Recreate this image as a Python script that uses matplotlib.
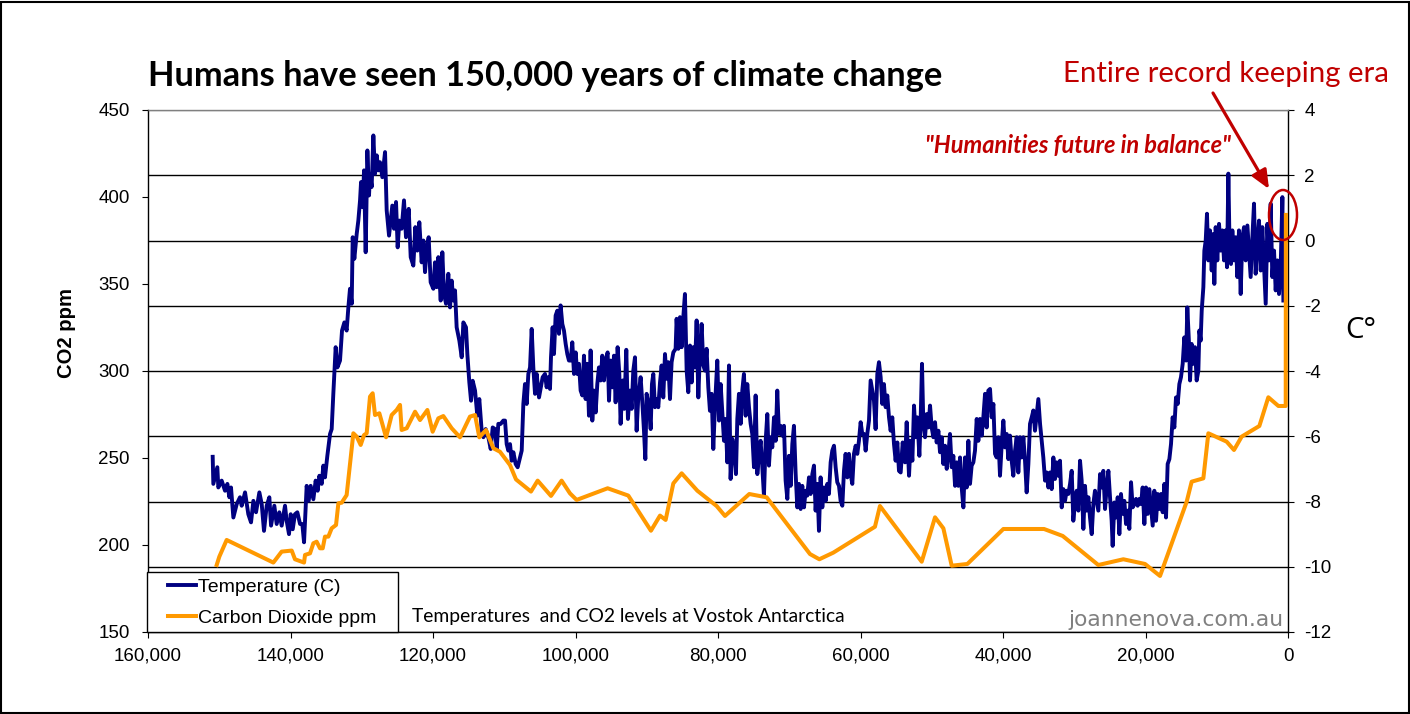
import matplotlib
matplotlib.use("Agg")
import matplotlib.pyplot as plt
from matplotlib.ticker import FuncFormatter
from matplotlib.patches import Rectangle, Ellipse, FancyArrowPatch
import numpy as np

plt.rcParams['axes.unicode_minus'] = False

# ---------------- data ----------------
# Vostok temperature anomaly: age in thousands of years BP, temperature in C
temp_age_kyr = [
    150.92, 150.83, 150.27, 150.13, 149.66, 149.19, 148.86, 148.58, 148.35, 148.02,
    147.55, 147.09, 146.85, 146.38, 145.92, 145.54, 145.21, 144.84, 144.37, 144.04,
    143.72, 143.34, 142.97, 142.73, 142.27, 141.94, 141.57, 141.24, 140.77, 140.54,
    140.21, 139.97, 139.69, 139.37, 139.04, 138.66, 138.34, 138.10, 137.73, 137.45,
    137.17, 136.79, 136.47, 136.19, 135.95, 135.62, 135.39, 135.16, 134.83, 134.45,
    134.22, 133.99, 133.66, 133.42, 133.05, 132.77, 132.44, 132.12, 131.88, 131.65,
    131.41, 131.27, 131.04, 130.71, 130.48, 130.24, 130.10, 129.87, 129.68, 129.45,
    129.21, 128.98, 128.84, 128.61, 128.37, 128.14, 127.90, 127.67, 127.44, 127.11,
    126.73, 126.50, 126.17, 125.94, 125.71, 125.47, 125.19, 124.96, 124.72, 124.40,
    124.07, 123.79, 123.41, 123.13, 122.76, 122.48, 122.20, 121.92, 121.59, 121.35,
    121.12, 120.89, 120.61, 120.33, 119.95, 119.72, 119.48, 119.25, 118.92, 118.69,
    118.45, 118.17, 117.85, 117.61, 117.38, 117.14, 116.91, 116.68, 116.30, 115.97,
    115.74, 115.37, 115.18, 114.90, 114.66, 114.43, 114.10, 113.78, 113.50, 113.17,
    112.93, 112.61, 112.23, 111.90, 111.62, 111.30, 111.06, 110.83, 110.50, 110.13,
    109.89, 109.66, 109.43, 109.19, 108.96, 108.72, 108.40, 108.12, 107.79, 107.55,
    107.32, 107.09, 106.85, 106.62, 106.38, 106.15, 105.92, 105.68, 105.45, 105.12,
    104.61, 104.28, 104.05, 103.82, 103.58, 103.44, 103.21, 103.02, 102.79, 102.55,
    102.32, 102.09, 101.85, 101.62, 101.38, 101.15, 100.92, 100.68, 100.45, 100.21,
    99.98, 99.75, 99.51, 99.28, 99.04, 98.81, 98.58, 98.34, 98.11, 97.88,
    97.64, 97.41, 97.17, 96.94, 96.71, 96.47, 96.24, 96.00, 95.77, 95.49,
    95.30, 95.07, 94.83, 94.60, 94.37, 94.09, 93.85, 93.67, 93.38, 93.15,
    92.87, 92.64, 92.36, 92.12, 91.89, 91.65, 91.42, 91.19, 90.86, 90.58,
    90.39, 90.20, 90.02, 89.69, 89.45, 89.27, 89.08, 88.85, 88.61, 88.38,
    88.14, 87.91, 87.68, 87.44, 87.21, 86.97, 86.74, 86.51, 86.27, 85.95,
    85.81, 85.57, 85.34, 85.10, 84.87, 84.64, 84.40, 84.17, 83.93, 83.70,
    83.47, 83.23, 83.00, 82.76, 82.53, 82.30, 82.06, 81.83, 81.60, 81.36,
    81.13, 80.89, 80.66, 80.43, 80.10, 79.86, 79.63, 79.40, 79.16, 78.93,
    78.69, 78.46, 78.23, 77.99, 77.76, 77.48, 77.29, 77.06, 76.82, 76.59,
    76.36, 76.12, 75.89, 75.65, 75.42, 75.19, 74.95, 74.72, 74.48, 74.25,
    74.02, 73.78, 73.55, 73.31, 73.08, 72.85, 72.61, 72.38, 72.14, 71.91,
    71.68, 71.44, 71.21, 70.98, 70.74, 70.51, 70.27, 70.04, 69.81, 69.57,
    69.34, 69.10, 68.87, 68.64, 68.40, 68.17, 67.93, 67.70, 67.47, 67.23,
    67.00, 66.76, 66.53, 66.30, 66.06, 65.83, 65.60, 65.36, 65.13, 64.89,
    64.66, 64.43, 64.19, 63.96, 63.72, 63.49, 63.26, 63.02, 62.79, 62.55,
    62.32, 62.09, 61.85, 61.62, 61.38, 61.15, 60.92, 60.68, 60.45, 60.22,
    59.98, 59.75, 59.51, 59.28, 59.05, 58.81, 58.58, 58.34, 58.11, 57.88,
    57.64, 57.41, 57.17, 56.94, 56.71, 56.47, 56.24, 56.00, 55.77, 55.54,
    55.30, 55.07, 54.83, 54.60,
    54.36, 54.08, 53.75, 53.52, 53.19, 52.96, 52.72, 52.49, 52.25, 52.02,
    51.74, 51.55, 51.37, 51.18, 50.94, 50.71, 50.48, 50.24, 50.01, 49.77,
    49.54, 49.31, 49.07, 48.84, 48.61, 48.37, 48.14, 47.90, 47.67, 47.44,
    47.20, 46.97, 46.73, 46.50, 46.27, 46.03, 45.80, 45.56, 45.33, 45.10,
    44.86, 44.63, 44.40, 44.16, 43.93, 43.69, 43.46, 43.23, 42.99, 42.76,
    42.52, 42.29, 42.06, 41.82, 41.59, 41.35, 41.12, 40.89, 40.65, 40.42,
    40.18, 39.95, 39.72, 39.48, 39.25, 39.02, 38.78, 38.55, 38.31, 38.08,
    37.85, 37.61, 37.38, 37.14, 36.91, 36.68, 36.44, 36.21, 35.97, 35.74,
    35.51, 35.27, 35.04, 34.80, 34.57, 34.34, 34.10, 33.87, 33.63, 33.40,
    33.17, 32.93, 32.70, 32.47, 32.23, 32.00, 31.76, 31.53, 31.30, 31.06,
    30.83, 30.59, 30.36, 30.13, 29.89, 29.66, 29.42, 29.19, 28.96, 28.72,
    28.49, 28.26, 28.02, 27.79, 27.55, 27.32, 27.09, 26.85, 26.62, 26.38,
    26.15, 25.92, 25.68, 25.45, 25.21, 24.98, 24.75, 24.61, 24.37, 24.14,
    23.90, 23.67, 23.44, 23.20, 22.97, 22.73, 22.50, 22.27, 22.03, 21.80,
    21.56, 21.33, 21.10, 20.86, 20.63, 20.40, 20.16, 19.93, 19.69, 19.46,
    19.23, 18.99, 18.76, 18.52, 18.29, 18.06, 17.82, 17.59, 17.35, 17.12,
    16.89, 16.65, 16.42, 16.19, 15.95, 15.72, 15.48, 15.25, 15.02, 14.78,
    14.55, 14.31, 14.13, 13.89, 13.75, 13.52, 13.28, 13.05, 12.82, 12.58,
    12.44, 12.26, 12.11, 11.88, 11.74, 11.55, 11.37, 11.18, 10.95, 10.71,
    10.48, 10.34, 10.15, 9.92, 9.68, 9.45, 9.21, 8.98, 8.75, 8.56,
    8.37, 8.19, 8.00, 7.81, 7.58, 7.34, 7.11, 6.88, 6.64, 6.41,
    6.17, 5.94, 5.70, 5.47, 5.24, 5.00, 4.77, 4.54, 4.30, 4.07,
    3.83, 3.60, 3.37, 3.13, 2.90, 2.66, 2.43, 2.20, 1.96, 1.73,
    1.49, 1.26, 1.03, 0.79, 0.65,
]
temp_c = [
    -6.63, -7.46, -6.95, -7.57, -7.36, -7.67, -7.46, -7.87, -7.57, -8.49,
    -8.08, -7.87, -8.13, -7.72, -8.39, -8.64, -7.98, -8.33, -7.72, -8.08,
    -8.90, -8.13, -7.87, -8.74, -8.13, -8.69, -8.33, -8.74, -8.13, -8.59,
    -9.00, -8.39, -8.85, -8.39, -8.33, -8.69, -8.69, -9.25, -7.52, -7.98,
    -7.52, -7.93, -7.36, -7.67, -7.21, -7.46, -6.90, -7.26, -6.60, -5.93,
    -5.78, -4.70, -3.27, -3.89, -3.68, -2.76, -2.51, -2.76, -2.05, -1.48,
    -1.94, 0.10, -0.56, 0.20, 0.61, 1.23, 1.79, 1.02, 2.15, -0.36,
    2.76, 1.38, 2.04, 1.64, 3.22, 2.04, 2.61, 2.15, 2.40, 1.94,
    2.71, 0.92, 0.15, 0.61, 1.07, 0.36, 1.18, -0.21, 0.61, 0.36,
    1.23, 0.10, 0.97, -0.51, -0.77, 0.41, -0.31, 0.56, -0.67, 0.00,
    -0.97, -0.26, 0.10, -1.28, -1.48, -0.67, -1.43, -0.51, -1.84, -0.36,
    -1.64, -1.94, -1.02, -2.05, -1.23, -1.84, -1.53, -2.66, -3.07, -3.58,
    -2.51, -2.66, -3.48, -4.35, -4.91, -4.30, -4.60, -5.37, -4.86, -5.83,
    -6.03, -5.78, -6.03, -6.39, -5.73, -5.78, -6.39, -5.62, -5.62, -5.52,
    -5.52, -6.24, -6.44, -6.24, -6.75, -6.49, -6.85, -6.95, -6.65, -6.44,
    -5.01, -4.40, -5.01, -4.09, -3.89, -2.71, -3.89, -4.70, -4.09, -4.81,
    -4.19, -4.09, -4.50, -4.19, -4.55, -3.58, -2.66, -3.48, -2.30, -2.15,
    -2.86, -1.99, -2.56, -2.76, -3.17, -3.48, -3.68, -3.68, -3.12, -4.09,
    -3.43, -4.09, -3.78, -4.60, -4.75, -3.53, -4.86, -3.78, -5.37, -3.37,
    -5.52, -4.60, -5.27, -4.40, -3.89, -4.29, -3.53, -4.29, -3.68, -3.43,
    -4.91, -3.68, -4.50, -3.53, -4.96, -3.27, -4.09, -5.62, -4.29, -5.16,
    -3.35, -5.47, -4.60, -5.16, -3.99, -3.58, -5.83, -4.81, -4.19, -5.11,
    -5.83, -6.70, -4.70, -5.06, -5.78, -4.40, -4.09, -5.11, -4.86, -5.11,
    -4.35, -3.83, -4.81, -3.48, -4.24, -3.73, -4.86, -3.73, -3.43, -3.32,
    -2.40, -3.32, -2.35, -3.27, -2.35, -1.64, -3.99, -4.65, -3.22, -4.35,
    -3.27, -3.89, -2.45, -4.81, -3.37, -2.56, -3.83, -3.99, -3.32, -4.50,
    -5.22, -4.70, -6.39, -5.11, -3.68, -5.52, -4.40, -5.27, -6.14, -5.47,
    -6.80, -3.83, -7.31, -6.08, -6.44, -7.16, -5.47, -4.70, -5.62, -4.60,
    -4.09, -5.37, -4.40, -5.11, -5.62, -5.93, -6.95, -4.75, -7.16, -6.54,
    -6.14, -6.95, -7.82, -6.14, -5.32, -6.90, -6.03, -6.34, -5.42, -6.14,
    -4.60, -5.93, -5.68, -5.98, -5.68, -7.36, -7.92, -6.60, -7.52, -6.24,
    -5.68, -7.16, -8.18, -7.46, -8.23, -7.52, -8.18, -7.67, -7.82, -7.26,
    -7.77, -7.16, -6.90, -8.28, -7.46, -8.90, -7.26, -8.18, -7.57, -7.98,
    -7.46, -7.77, -6.80, -6.44, -6.29, -6.95, -7.41, -7.52, -7.98, -8.13,
    -7.06, -6.54, -7.26, -6.54, -7.16, -7.46, -6.54, -6.29, -6.54, -6.14,
    -5.57, -5.93, -5.93, -6.44, -5.93, -5.52, -4.29, -4.60, -4.91, -5.78,
    -4.09, -3.73, -4.19, -5.01, -4.40, -5.11, -4.75, -5.42, -5.83, -5.42,
    -6.24, -6.75, -6.19, -7.06,
    -7.11, -6.19, -6.80, -5.57, -7.21, -6.14, -6.75, -5.06, -6.03, -5.42,
    -6.60, -5.42, -3.78, -5.62, -6.03, -5.32, -5.73, -5.06, -5.73, -6.03,
    -5.57, -6.19, -5.83, -6.49, -6.03, -6.85, -6.29, -7.00, -6.54, -5.93,
    -6.95, -6.60, -7.52, -6.80, -7.52, -6.65, -7.57, -8.18, -6.65, -7.57,
    -6.14, -7.46, -6.90, -6.80, -6.44, -5.47, -6.14, -5.47, -5.98, -5.42,
    -4.70, -5.73, -4.60, -4.55, -5.42, -5.01, -6.54, -6.65, -6.03, -7.21,
    -6.24, -5.52, -6.34, -5.93, -6.70, -5.98, -6.75, -7.21, -6.44, -6.03,
    -7.11, -6.03, -6.65, -6.03, -6.75, -7.72, -6.85, -5.62, -5.42, -5.21,
    -5.83, -5.32, -4.86, -5.62, -6.14, -6.65, -7.36, -7.11, -7.57, -7.11,
    -7.62, -6.65, -7.31, -6.80, -7.21, -6.75, -8.18, -7.62, -7.98, -7.67,
    -7.77, -7.46, -7.06, -8.59, -8.03, -7.67, -8.28, -6.75, -7.36, -8.84,
    -7.52, -8.28, -7.87, -8.49, -9.00, -8.08, -7.67, -7.98, -8.28, -7.16,
    -7.57, -7.06, -8.23, -7.57, -7.06, -7.87, -8.59, -9.36, -8.03, -8.49,
    -7.87, -9.00, -7.77, -8.38, -7.98, -8.69, -8.28, -8.84, -7.41, -8.18,
    -8.08, -7.92, -8.13, -7.92, -8.08, -7.57, -8.69, -7.57, -8.38, -7.62,
    -8.18, -8.74, -7.67, -8.59, -7.77, -8.23, -7.77, -8.33, -7.46, -8.49,
    -6.85, -6.70, -6.24, -5.42, -5.73, -4.81, -5.01, -4.40, -4.19, -3.78,
    -2.97, -3.68, -2.05, -3.17, -4.29, -3.17, -3.78, -3.27, -4.29, -3.99,
    -2.76, -3.07, -2.15, -1.43, -0.31, 0.00, 0.82, -0.61, 0.31, -0.92,
    0.20, -1.33, 0.41, -0.61, 0.51, -0.31, 0.31, -0.61, 0.31, -0.82,
    2.05, -0.31, -0.72, 0.31, -0.61, 0.10, -1.12, 0.31, -1.64, 0.10,
    0.41, -0.61, 0.46, -0.31, -1.12, 0.10, 1.13, -1.02, -0.10, 0.61,
    -0.92, 0.41, -0.72, -1.94, 0.51, -0.61, 1.13, -1.12, -0.31, -1.53,
    -0.61, -1.64, -0.82, 1.33, -1.84,
]

# Vostok CO2: age in thousands of years BP, concentration in ppm
co2_age_kyr = [
    150.36, 149.99, 148.96, 142.41, 141.24, 139.83, 139.37, 138.10, 137.96, 137.26,
    136.79, 136.33, 135.86, 135.48, 135.16, 134.69, 134.22, 133.61, 133.28, 132.82,
    132.12, 131.18, 130.71, 130.15, 129.68, 129.31, 128.84, 128.47, 128.14, 127.53,
    126.59, 125.80, 125.10, 124.63, 124.40, 123.69, 122.52, 121.82, 120.79, 120.05,
    119.25, 118.55, 117.38, 116.21, 114.81, 114.10, 113.50, 112.56, 111.53, 110.60,
    109.20, 108.35, 106.25, 105.31, 103.44, 101.95, 100.78, 99.84, 95.49, 92.59,
    89.41, 88.14, 87.35, 86.27, 85.10, 82.90, 80.19, 79.02, 75.61, 73.17,
    67.09, 65.78, 63.82, 57.97, 57.27, 51.41, 49.54, 48.37, 47.20, 45.00,
    39.95, 34.24, 31.62, 26.62, 23.11, 20.07, 17.96, 14.22, 13.52, 11.88,
    11.18, 8.61, 7.58, 6.50, 4.02, 2.76, 1.35, 0.32, 0.30,
]
co2_ppm = [
    188.5, 193.3, 202.9, 189.9, 196.2, 196.8, 191.8, 189.9, 194.3, 195.2,
    201.0, 201.9, 198.1, 198.1, 204.8, 204.8, 209.6, 211.5, 224.0, 224.3,
    228.7, 264.2, 262.3, 257.5, 263.2, 264.2, 285.3, 287.2, 274.7, 275.7,
    261.9, 274.7, 277.6, 280.5, 266.1, 267.1, 276.6, 271.8, 277.6, 265.1,
    272.8, 274.1, 267.1, 261.9, 273.8, 274.7, 261.9, 266.1, 255.6, 253.6,
    246.0, 237.7, 230.7, 237.0, 228.2, 237.0, 229.7, 225.9, 232.6, 228.4,
    208.2, 216.9, 214.4, 235.4, 241.2, 231.2, 222.4, 216.7, 229.3, 227.4,
    194.8, 191.8, 195.6, 210.5, 222.4, 190.4, 215.9, 209.6, 188.1, 189.1,
    209.2, 209.2, 205.2, 188.5, 191.8, 189.1, 182.2, 224.9, 236.4, 238.3,
    264.2, 259.4, 254.6, 262.3, 268.4, 284.9, 279.9, 279.9, 389.7,
]

x_ticks = [160000, 140000, 120000, 100000, 80000, 60000, 40000, 20000, 0]
co2_ticks = [150, 200, 250, 300, 350, 400, 450]
temp_ticks = [-12, -10, -8, -6, -4, -2, 0, 2, 4]

series_labels = ["Temperature (C)", "Carbon Dioxide ppm"]
title_text = "Humans have seen 150,000 years of climate change"
era_text = "Entire record keeping era"
quote_text = "\"Humanities future in balance\""
subtitle_text = "Temperatures  and CO2 levels at Vostok Antarctica"
credit_text = "joannenova.com.au"

# ---------------- styling ----------------
NAVY = "#000080"
ORANGE = "#FF9900"
DARKRED = "#C00000"
TICKFONT = "Liberation Sans"

W, H = 1410, 714
fig = plt.figure(figsize=(W / 100, H / 100), dpi=100)
fig.patch.set_facecolor("white")


def fx(px):
    return px / W


def fy(py):
    return 1 - py / H


L, R, T, B = 148, 1288, 110, 632
ax = fig.add_axes([fx(L), fy(B), (R - L) / W, (B - T) / H])   # temperature axes (right scale)
ax2 = ax.twinx()                                                # CO2 axes (left scale)

# temperature line
temp_years = np.array(temp_age_kyr) * 1000
l_temp, = ax.plot(temp_years, temp_c, color=NAVY, lw=2.8,
                  solid_joinstyle="round", zorder=3)
# CO2 line
co2_years = np.array(co2_age_kyr) * 1000
l_co2, = ax2.plot(co2_years, co2_ppm, color=ORANGE, lw=2.9,
                  solid_joinstyle="round", zorder=3)

ax.set_xlim(160000, 0)
ax.set_ylim(-12, 4)
ax2.set_ylim(150, 450)
ax.set_xticks(x_ticks)
ax.set_yticks(temp_ticks)
ax2.set_yticks(co2_ticks)
ax.xaxis.set_major_formatter(FuncFormatter(lambda v, p: f"{v:,.0f}"))

# gridlines from the temperature scale
ax.grid(axis="y", color="black", lw=1.0)
ax.grid(axis="x", visible=False)
ax.set_axisbelow(True)
for val, gl in zip(temp_ticks, ax.yaxis.get_gridlines()):
    if val == temp_ticks[-1]:
        gl.set_color("#808080")

for s in ("left", "right", "bottom"):
    ax.spines[s].set_color("black")
    ax.spines[s].set_linewidth(1.0)
ax.spines["top"].set_color("#808080")
ax.spines["top"].set_linewidth(1.0)
for s in ax2.spines.values():
    s.set_visible(False)

ax.tick_params(axis="x", direction="out", length=4.3, width=0.8, pad=7,
               labelsize=13.5, colors="black")
ax.tick_params(axis="y", direction="out", length=4.3, width=0.8, pad=7.5,
               labelsize=13.5, left=False, labelleft=False,
               right=True, labelright=True)
ax2.tick_params(axis="y", direction="out", length=4.3, width=0.8, pad=8.8,
                labelsize=13.5, left=True, labelleft=True,
                right=False, labelright=False)
for lab in ax.get_xticklabels() + ax.get_yticklabels() + ax2.get_yticklabels():
    lab.set_fontfamily(TICKFONT)

# ---------------- legend box ----------------
fig.add_artist(Rectangle((fx(147), fy(632)), (398 - 147) / W, (632 - 571.5) / H,
                         transform=fig.transFigure, facecolor="white",
                         edgecolor="black", lw=1.0, zorder=4))
leg = fig.legend([l_temp, l_co2], series_labels, loc="upper left",
                 bbox_to_anchor=(fx(168), fy(578)), bbox_transform=fig.transFigure,
                 frameon=False, borderpad=0, borderaxespad=0,
                 handlelength=1.44, handletextpad=0.12, labelspacing=0.72,
                 prop={"family": TICKFONT, "size": 14})
leg.set_zorder(6)

# ---------------- texts ----------------
texts = []
t_title = fig.text(fx(148), fy(85.5), title_text, fontfamily="Lato",
                   fontweight="bold", fontsize=21, ha="left", va="baseline",
                   color="black")
texts.append((t_title, 794, "w"))
t_era = fig.text(fx(1063), fy(82), era_text, fontfamily="Lato",
                 fontsize=19, ha="left", va="baseline", color=DARKRED)
texts.append((t_era, 326, "w"))
t_quote = fig.text(fx(925), fy(152.5), quote_text, fontfamily="Lato",
                   fontweight="bold", fontstyle="italic", fontsize=14,
                   ha="left", va="baseline", color=DARKRED)
texts.append((t_quote, 308, "w"))
t_sub = fig.text(fx(412), fy(622), subtitle_text, fontfamily="Lato",
                 fontsize=13, ha="left", va="baseline", color="black")
texts.append((t_sub, 432, "w"))
t_credit = fig.text(fx(1068), fy(626.5), credit_text, fontfamily="DejaVu Sans",
                    fontsize=14, ha="left", va="baseline", color="#808080")
texts.append((t_credit, 214, "w"))
t_ylab = fig.text(fx(66), fy(333), "CO2 ppm", fontfamily=TICKFONT,
                  fontweight="bold", fontsize=14, rotation=90,
                  ha="center", va="center", color="black")
texts.append((t_ylab, 90, "h"))
t_deg = fig.text(fx(1361), fy(330), "C°", fontfamily="Open Sans",
                 fontsize=22, ha="center", va="center", color="black")
texts.append((t_deg, 31, "w"))

renderer = fig.canvas.get_renderer()
for _ in range(2):
    for t, target, dim in texts:
        bb = t.get_window_extent(renderer)
        cur = bb.width if dim == "w" else bb.height
        if cur > 0:
            t.set_fontsize(t.get_fontsize() * target / cur)

# ---------------- annotations ----------------
arrow = FancyArrowPatch(posA=(fx(1213), fy(93)), posB=(fx(1269), fy(189)),
                        transform=fig.transFigure,
                        arrowstyle="-|>,head_length=0.8,head_width=0.35",
                        mutation_scale=14, color=DARKRED, lw=2.3,
                        shrinkA=0, shrinkB=0, zorder=7)
fig.add_artist(arrow)
fig.add_artist(Ellipse((fx(1283), fy(215)), 28 / W, 50 / H,
                       transform=fig.transFigure, fill=False,
                       edgecolor=DARKRED, lw=1.8, zorder=7))

# outer frame
fig.add_artist(Rectangle((1 / W, 1.5 / H), 1407.5 / W, 711 / H,
                         transform=fig.transFigure, fill=False,
                         edgecolor="black", lw=1.5, zorder=10))

fig.savefig("out.png", dpi=100, facecolor="white")
